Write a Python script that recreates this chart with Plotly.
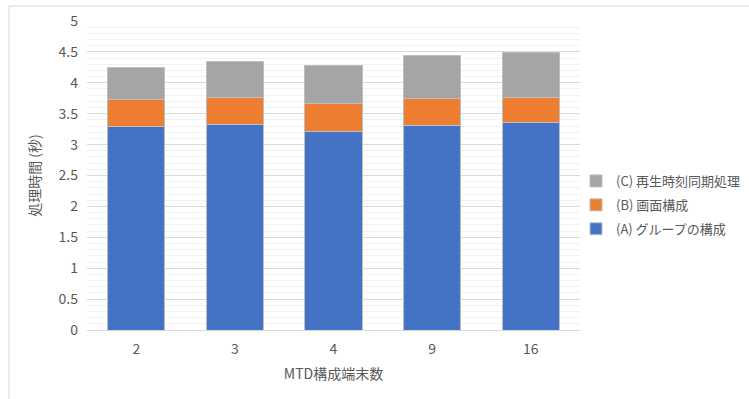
import plotly.graph_objects as go

categories = ["2", "3", "4", "9", "16"]
series_a = [3.29, 3.33, 3.22, 3.31, 3.35]
series_b = [0.44, 0.44, 0.44, 0.44, 0.42]
series_c = [0.51, 0.57, 0.62, 0.69, 0.72]
names = ["(A) グループの構成", "(B) 画面構成", "(C) 再生時刻同期処理"]
colors = ["#4472C4", "#ED7D31", "#A5A5A5"]
y_ticks = [0, 0.5, 1, 1.5, 2, 2.5, 3, 3.5, 4, 4.5, 5]
y_tick_text = ["0", "0.5", "1", "1.5", "2", "2.5", "3", "3.5", "4", "4.5", "5"]

FONT = "Noto Sans CJK JP"
fig = go.Figure()
for i, (vals, nm, col) in enumerate(zip([series_a, series_b, series_c], names, colors)):
    fig.add_trace(go.Bar(x=categories, y=vals, name=nm, marker_color=col,
                         legendgroup=f"g{i}", legendrank=1000 - i,
                         marker_line=dict(color="#BFBFBF", width=1)))

W, H = 749, 399
L, R, T, B = 87, 169, 21, 69
pw, ph = W - L - R, H - T - B

fig.update_layout(
    width=W, height=H, barmode="stack", bargap=0.42,
    margin=dict(l=L, r=R, t=T, b=B, autoexpand=False),
    paper_bgcolor="white", plot_bgcolor="white",
    font=dict(family=FONT, size=14, color="#595959"),
    legend=dict(x=(576 - L) / pw, y=(330 - 166) / ph, xanchor="left", yanchor="top",
                traceorder="grouped", font=dict(size=13, color="#595959"),
                itemwidth=30, tracegroupgap=4, bgcolor="rgba(0,0,0,0)"),
    xaxis=dict(type="category", showline=True, linecolor="#D9D9D9", linewidth=1,
               ticks="", tickfont=dict(size=14, color="#595959"), ticklabelstandoff=6,
               title=dict(text="MTD構成端末数", font=dict(size=14, color="#595959"), standoff=12)),
    yaxis=dict(range=[0, 5], tickvals=y_ticks, ticktext=y_tick_text, showgrid=True,
               gridcolor="#D9D9D9", gridwidth=1, zeroline=False,
               minor=dict(dtick=0.1, showgrid=True, gridcolor="#F2F2F2", gridwidth=1),
               tickfont=dict(size=14, color="#595959"), ticklabelstandoff=8,
               title=dict(text="処理時間 (秒)", font=dict(size=14, color="#595959"), standoff=14)),
    shapes=[dict(type="rect", xref="paper", yref="paper",
                 x0=(9 - L) / pw, x1=(760 - L) / pw, y0=(330 - 410) / ph, y1=(330 - 6) / ph,
                 line=dict(color="#D9D9D9", width=1), layer="below")],
)
fig.write_html("out.html")
